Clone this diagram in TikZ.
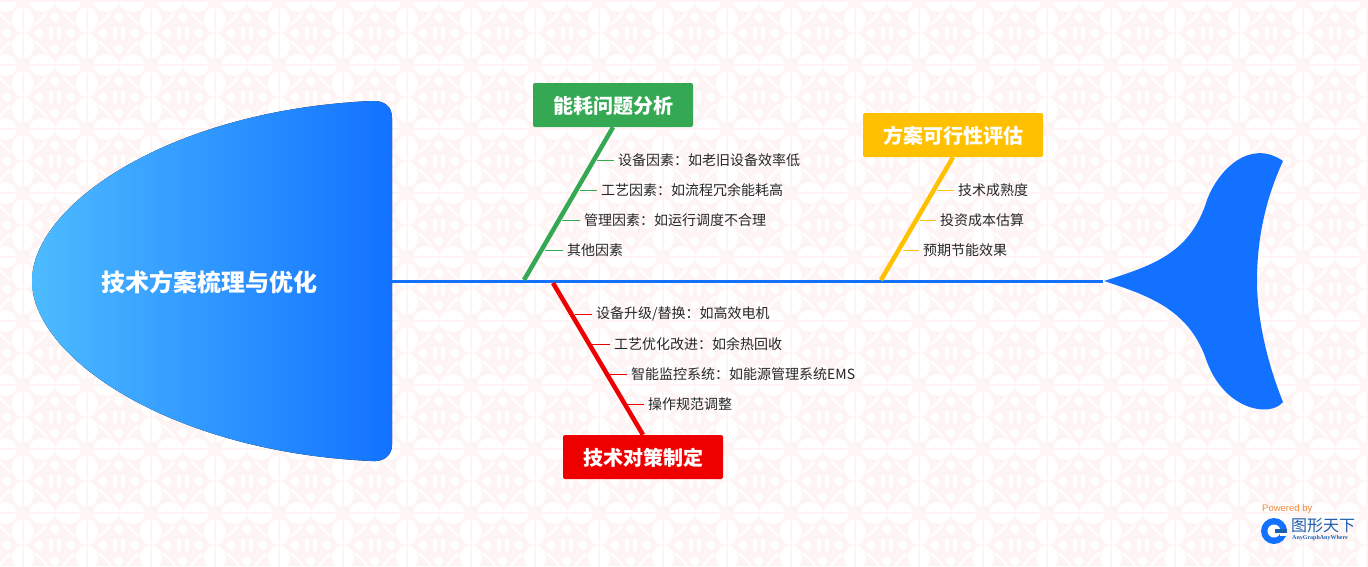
\documentclass[tikz,border=0pt]{standalone}
\usepackage{fontspec}
\usepackage{xcolor}
\setmainfont{Noto Sans CJK SC}
\newfontfamily\latinfont{Liberation Sans}
\newfontfamily\logoserif{Liberation Serif}
\definecolor{bgpink}{HTML}{FEF4F4}
\definecolor{spineblue}{HTML}{1272FF}
\definecolor{headlight}{HTML}{4DBBFF}
\definecolor{bonegreen}{HTML}{34A853}
\definecolor{boneyellow}{HTML}{FFC000}
\definecolor{bonered}{HTML}{EE0000}
\definecolor{leaftext}{HTML}{262626}
\definecolor{logoorange}{HTML}{F08A3C}
\definecolor{logoblue}{HTML}{1C5FAF}
\tikzset{
	bone/.style={line width=4.5pt},
	stem/.style={line width=0.9pt},
	spine/.style={line width=3.2pt,spineblue},
	causebox/.style={inner sep=0pt,minimum width=160pt,minimum height=44pt,rounded corners=2pt},
	causetext/.style={inner sep=0pt,text=white,font=\fontsize{20}{24}\selectfont\bfseries},
	leaf/.style={anchor=west,inner xsep=4pt,inner ysep=1pt,text=leaftext,font=\fontsize{14}{16}\selectfont},
}
\begin{document}
\begin{tikzpicture}[x=1pt,y=-1pt]
	\useasboundingbox (0,0) rectangle (1368,566);
	\fill [bgpink] (0,0) rectangle (1368,566);
	% wallpaper
	\begin{scope}
		\clip (0,0) rectangle (1368,566);
		\foreach \i in {-1,...,21} {
			\foreach \j in {-1,...,9} {
				\pgfmathsetmacro{\fx}{23+64*\i}
				\pgfmathsetmacro{\fy}{1+64*\j}
				\fill [white] (\fx,\fy-19) ellipse (11 and 13)
					(\fx,\fy+19) ellipse (11 and 13)
					(\fx-19,\fy) ellipse (13 and 11)
					(\fx+19,\fy) ellipse (13 and 11)
					(\fx+32,\fy+16) circle (4.5)
					(\fx+32,\fy+48) circle (4.5)
					(\fx+16,\fy+32) circle (4.5)
					(\fx+48,\fy+32) circle (4.5);
				\fill [white] (\fx+26,\fy+26) rectangle ++(4,12)
					(\fx+34,\fy+26) rectangle ++(4,12);
				\draw [white,line width=2.4pt] (\fx+12,\fy+24) -- (\fx+24,\fy+12)
					(\fx+40,\fy+12) -- (\fx+52,\fy+24)
					(\fx+12,\fy+40) -- (\fx+24,\fy+52)
					(\fx+40,\fy+52) -- (\fx+52,\fy+40);
				\draw [bgpink,line width=1.4pt] (\fx,\fy-32) -- (\fx,\fy+32)
					(\fx-32,\fy) -- (\fx+32,\fy);
			}
		}
	\end{scope}
	% head and tail
	\fill [left color=headlight,right color=spineblue] (32,281) .. controls (32,205) and (170,110) .. (372,101)
		.. controls (384,100.5) and (392,106) .. (392,118) -- (392,445)
		.. controls (392,455) and (384,462) .. (372,461)
		.. controls (170,452) and (32,357) .. (32,281) -- cycle;
	\node [inner sep=0pt,text=white,font=\fontsize{24}{28}\selectfont\bfseries] (headtitle) at (209,282) {技术方案梳理与优化};
	\fill [spineblue] (1104,281) .. controls (1150,266) and (1190,255) .. (1207,200)
		.. controls (1218,170) and (1250,138) .. (1283,161)
		.. controls (1265,200) and (1257,240) .. (1257,281)
		.. controls (1257,320) and (1268,365) .. (1283,402)
		.. controls (1270,418) and (1225,410) .. (1207,362)
		.. controls (1190,310) and (1150,296) .. (1104,281) -- cycle;
	\coordinate (spineL) at (392,281.5);
	\coordinate (spineR) at (1103,281.5);
	\draw [spine] (spineL) -- (spineR);
	% energy branch
	\node [causebox,fill=bonegreen] (energy) at (613,105) {};
	\node [causetext] (energytitle) at (613,106) {能耗问题分析};
	\coordinate (energyfoot) at (524,280);
	\draw [bone,bonegreen] (energyfoot) -- (energy.south);
	\node [leaf] (energyA) at (614,160) {设备因素：如老旧设备效率低};
	\node [leaf] (energyB) at (597,190) {工艺因素：如流程冗余能耗高};
	\node [leaf] (energyC) at (580,220) {管理因素：如运行调度不合理};
	\node [leaf] (energyD) at (563,250) {其他因素};
	\coordinate (ejA) at (597,160);
	\coordinate (ejB) at (580,190);
	\coordinate (ejC) at (562,220);
	\coordinate (ejD) at (545,250);
	\draw [stem,bonegreen] (ejA) -- (energyA);
	\draw [stem,bonegreen] (ejB) -- (energyB);
	\draw [stem,bonegreen] (ejC) -- (energyC);
	\draw [stem,bonegreen] (ejD) -- (energyD);
	% measures branch
	\node [causebox,fill=bonered] (measure) at (643,457) {};
	\node [causetext] (measuretitle) at (643,458) {技术对策制定};
	\coordinate (measurefoot) at (553,283);
	\draw [bone,bonered] (measurefoot) -- (measure.north);
	\node [leaf] (measureA) at (592,314) {设备升级/替换：如高效电机};
	\node [leaf] (measureB) at (610,344) {工艺优化改进：如余热回收};
	\node [leaf] (measureC) at (627,374) {智能监控系统：如能源管理系统EMS};
	\node [leaf] (measureD) at (644,404) {操作规范调整};
	\coordinate (mjA) at (575,314);
	\coordinate (mjB) at (592,344);
	\coordinate (mjC) at (610,374);
	\coordinate (mjD) at (627,404);
	\draw [stem,bonered] (mjA) -- (measureA);
	\draw [stem,bonered] (mjB) -- (measureB);
	\draw [stem,bonered] (mjC) -- (measureC);
	\draw [stem,bonered] (mjD) -- (measureD);
	% feasibility branch
	\node [causebox,fill=boneyellow,minimum width=180pt] (feasible) at (953,135) {};
	\node [causetext] (feasibletitle) at (953,136) {方案可行性评估};
	\coordinate (feasiblefoot) at (881,280);
	\draw [bone,boneyellow] (feasiblefoot) -- (feasible.south);
	\node [leaf] (feasibleA) at (954,190) {技术成熟度};
	\node [leaf] (feasibleB) at (936,220) {投资成本估算};
	\node [leaf] (feasibleC) at (919,250) {预期节能效果};
	\coordinate (fjA) at (937,190);
	\coordinate (fjB) at (920,220);
	\coordinate (fjC) at (903,250);
	\draw [stem,boneyellow] (fjA) -- (feasibleA);
	\draw [stem,boneyellow] (fjB) -- (feasibleB);
	\draw [stem,boneyellow] (fjC) -- (feasibleC);
	% logo
	\node [anchor=west,inner sep=0pt,text=logoorange,font=\latinfont\fontsize{9.5}{12}\selectfont] (powered) at (1262,509.5) {Powered by};
	\fill [spineblue] (1274,531) circle (13);
	\fill [white] (1274,531) circle (6.5);
	\fill [logoblue] (1275,529) rectangle (1287,533);
	\fill [white] (1280,533) rectangle (1287,536);
	\node [anchor=west,inner sep=0pt,text=logoblue,font=\fontsize{16}{18}\selectfont] (logoname) at (1291,526) {图形天下};
	\node [anchor=west,inner sep=0pt,text=logoblue,font=\logoserif\fontsize{6}{7}\selectfont\bfseries] (logoslogan) at (1292,538) {AnyGraphAnyWhere};
\end{tikzpicture}
\end{document}
